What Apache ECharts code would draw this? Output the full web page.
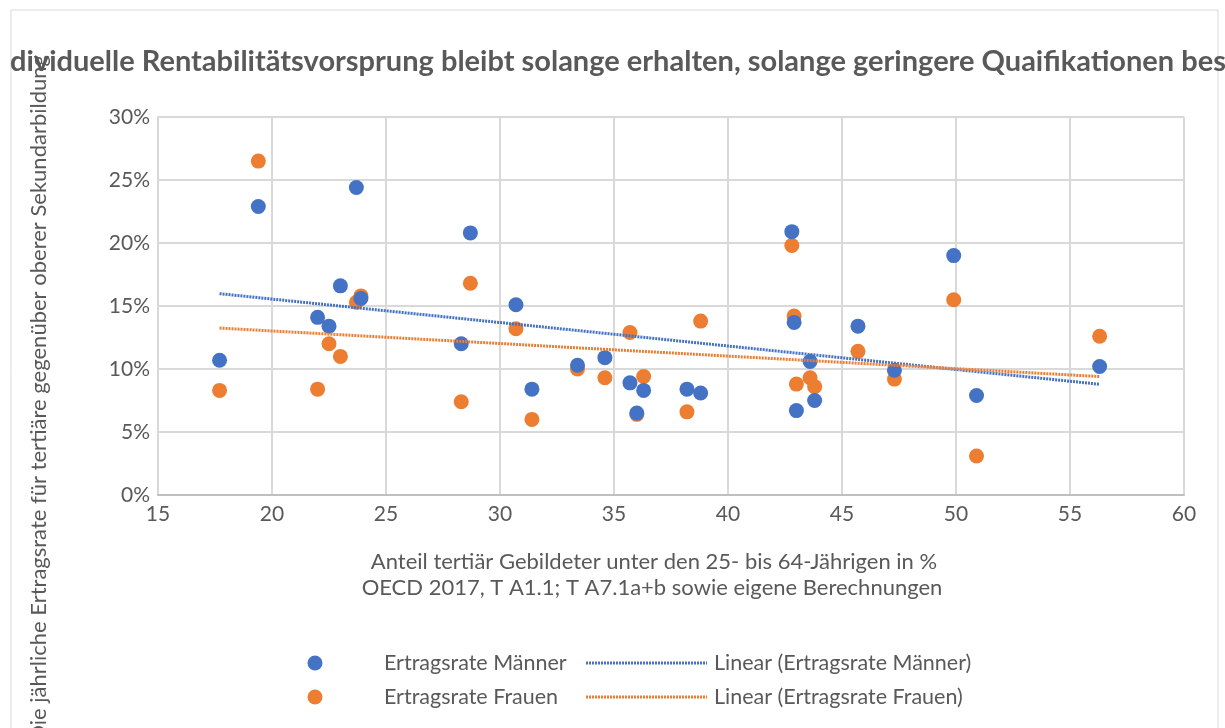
<!DOCTYPE html>
<html>
<head>
<meta charset="utf-8">
<script src="https://cdn.jsdelivr.net/npm/echarts@6/dist/echarts.min.js"></script>
<style>
html,body{margin:0;padding:0;background:#fff;}
#main{width:1225px;height:728px;}
</style>
</head>
<body>
<div id="main"></div>
<script>
// Anteil tertiär Gebildeter (x) und Ertragsraten in % (y)
var anteil = [17.7, 19.4, 22.0, 22.5, 23.0, 23.7, 23.9, 28.3, 28.7, 30.7, 31.4, 33.4, 34.6, 35.7,
              36.0, 36.3, 38.2, 38.8, 42.8, 42.9, 43.0, 43.6, 43.8, 45.7, 47.3, 49.9, 50.9, 56.3];
var ertragMaenner = [10.7, 22.9, 14.1, 13.4, 16.6, 24.4, 15.6, 12.0, 20.8, 15.1, 8.4, 10.3, 10.9, 8.9,
                     6.5, 8.3, 8.4, 8.1, 20.9, 13.7, 6.7, 10.6, 7.5, 13.4, 9.9, 19.0, 7.9, 10.2];
var ertragFrauen = [8.3, 26.5, 8.4, 12.0, 11.0, 15.3, 15.8, 7.4, 16.8, 13.2, 6.0, 10.0, 9.3, 12.9,
                    6.4, 9.4, 6.6, 13.8, 19.8, 14.2, 8.8, 9.3, 8.6, 11.4, 9.2, 15.5, 3.1, 12.6];
var xTicks = {min: 15, max: 60, step: 5};
var yTicks = {min: 0, max: 30, step: 5};

var blau = '#4472C4', orange = '#ED7D31', grau = '#595959';

function paare(ys) {
	return anteil.map(function (x, i) { return [x, ys[i]]; });
}
// lineare Trendlinie (kleinste Quadrate)
function trend(ys) {
	var n = anteil.length, sx = 0, sy = 0, sxx = 0, sxy = 0;
	for (var i = 0; i < n; i++) {
		sx += anteil[i]; sy += ys[i];
		sxx += anteil[i] * anteil[i]; sxy += anteil[i] * ys[i];
	}
	var b = (n * sxy - sx * sy) / (n * sxx - sx * sx);
	var a = (sy - b * sx) / n;
	var x0 = Math.min.apply(null, anteil), x1 = Math.max.apply(null, anteil);
	return [[x0, a + b * x0], [x1, a + b * x1]];
}

var myChart = echarts.init(document.getElementById('main'));
var font = 'Lato, "Open Sans", sans-serif';

option = {
	animation: false,
	textStyle: {fontFamily: font},
	grid: {left: 158, right: 41, top: 117, bottom: 233},
	xAxis: {
		type: 'value', min: xTicks.min, max: xTicks.max, interval: xTicks.step,
		axisLine: {show: true, lineStyle: {color: '#BFBFBF', width: 2}},
		axisTick: {show: false},
		axisLabel: {color: grau, fontSize: 21, margin: 9, fontFamily: font},
		splitLine: {show: true, lineStyle: {color: '#D9D9D9', width: 2}}
	},
	yAxis: {
		type: 'value', min: yTicks.min, max: yTicks.max, interval: yTicks.step,
		axisLine: {show: true, lineStyle: {color: '#D9D9D9', width: 2}},
		axisTick: {show: false},
		axisLabel: {color: grau, fontSize: 21, margin: 8, fontFamily: font, formatter: '{value}%'},
		splitLine: {show: true, lineStyle: {color: '#D9D9D9', width: 2}}
	},
	series: [
		{
			name: 'Ertragsrate Männer', type: 'scatter', data: paare(ertragMaenner),
			symbolSize: 15, itemStyle: {color: blau, opacity: 1}, z: 3
		},
		{
			name: 'Ertragsrate Frauen', type: 'scatter', data: paare(ertragFrauen),
			symbolSize: 15, itemStyle: {color: orange, opacity: 1}, z: 2
		},
		{
			name: 'Linear (Ertragsrate Männer)', type: 'line', data: trend(ertragMaenner),
			symbol: 'none', lineStyle: {color: blau, width: 3, type: [2, 1]}, z: 4
		},
		{
			name: 'Linear (Ertragsrate Frauen)', type: 'line', data: trend(ertragFrauen),
			symbol: 'none', lineStyle: {color: orange, width: 3, type: [2, 1]}, z: 4
		}
	],
	graphic: [
		{type: 'rect', shape: {x: 11, y: 10, width: 1207, height: 740}, style: {fill: 'none', stroke: '#D9D9D9', lineWidth: 1}, silent: true},
		{type: 'text', x: 10, y: 62, style: {
			text: 'dividuelle Rentabilitätsvorsprung bleibt solange erhalten, solange geringere Quaifikationen bes',
			fill: grau, font: 'bold 29px ' + font, textAlign: 'left', textVerticalAlign: 'middle'}},
		{type: 'text', x: 39, y: 55, rotation: Math.PI / 2, style: {
			text: 'Die jährliche Ertragsrate für tertiäre gegenüber oberer Sekundarbildung',
			fill: grau, font: '22px ' + font, textAlign: 'right', textVerticalAlign: 'middle'}},
		{type: 'text', x: 654, y: 562, style: {
			text: 'Anteil tertiär Gebildeter unter den 25- bis 64-Jährigen in %',
			fill: grau, font: '22px ' + font, textAlign: 'center', textVerticalAlign: 'middle'}},
		{type: 'text', x: 652, y: 588, style: {
			text: 'OECD 2017, T A1.1; T A7.1a+b sowie eigene Berechnungen',
			fill: grau, font: '22px ' + font, textAlign: 'center', textVerticalAlign: 'middle'}},
		// Legende
		{type: 'circle', shape: {cx: 315, cy: 663, r: 7.5}, style: {fill: blau}},
		{type: 'text', x: 384, y: 663, style: {text: 'Ertragsrate Männer', fill: grau, font: '21.5px ' + font, textVerticalAlign: 'middle'}},
		{type: 'line', shape: {x1: 586, y1: 663, x2: 707, y2: 663}, style: {stroke: blau, lineWidth: 3, lineDash: [2, 1]}},
		{type: 'text', x: 714, y: 663, style: {text: 'Linear (Ertragsrate Männer)', fill: grau, font: '21.5px ' + font, textVerticalAlign: 'middle'}},
		{type: 'circle', shape: {cx: 315, cy: 697, r: 7.5}, style: {fill: orange}},
		{type: 'text', x: 384, y: 697, style: {text: 'Ertragsrate Frauen', fill: grau, font: '21.5px ' + font, textVerticalAlign: 'middle'}},
		{type: 'line', shape: {x1: 586, y1: 697, x2: 707, y2: 697}, style: {stroke: orange, lineWidth: 3, lineDash: [2, 1]}},
		{type: 'text', x: 714, y: 697, style: {text: 'Linear (Ertragsrate Frauen)', fill: grau, font: '21.5px ' + font, textVerticalAlign: 'middle'}}
	]
};
myChart.setOption(option, true);
</script>
</body>
</html>
